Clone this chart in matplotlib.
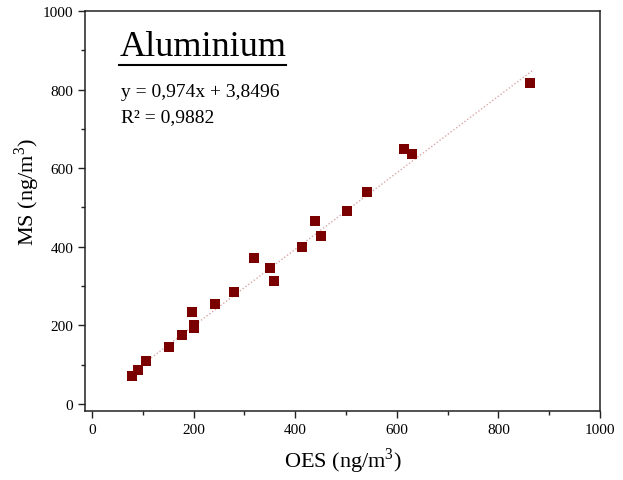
import numpy as np
import matplotlib
matplotlib.use("Agg")
import matplotlib.pyplot as plt
from matplotlib.lines import Line2D
from matplotlib.ticker import MultipleLocator

plt.rcParams['font.family'] = ['Liberation Serif', 'DejaVu Serif']
plt.rcParams['mathtext.fontset'] = 'custom'
plt.rcParams['mathtext.rm'] = 'Liberation Serif'

# values
oes = [78, 91, 106, 151, 178, 197, 200, 200, 243, 279, 319, 350, 358,
       413, 439, 450, 502, 542, 614, 630, 862]
ms = [72, 87, 109, 145, 176, 233, 201, 193, 254, 284, 371, 346, 314,
      399, 466, 427, 491, 540, 649, 635, 818]
slope = 0.974
intercept = 3.8496
r2 = 0.9882
title = "Aluminium"

fig = plt.figure(figsize=(6.23, 4.81), dpi=100)
ax = fig.add_axes([0.1364, 0.1435, 0.8266, 0.8315])

# trend line over the data range
xs = np.array([min(oes), 870])
ax.plot(xs, slope * xs + intercept, linestyle=(0, (1, 1.5)), color='#d8a8a8', lw=1.0, zorder=1)
ax.scatter(oes, ms, marker='s', s=42, color='#7a0000', zorder=3, linewidths=0)

ax.set_xlim(-14, 1000)
ax.set_ylim(-18, 1000)
ax.xaxis.set_major_locator(MultipleLocator(200))
ax.xaxis.set_minor_locator(MultipleLocator(100))
ax.yaxis.set_major_locator(MultipleLocator(200))
ax.yaxis.set_minor_locator(MultipleLocator(100))
ax.tick_params(which='major', direction='out', length=5, width=1, labelsize=11, color='#222222')
ax.tick_params(which='minor', direction='out', length=3, width=1, color='#222222')
for sp in ax.spines.values():
    sp.set_linewidth(1.1)
    sp.set_color('#222222')

ax.set_xlabel("OES (ng/m$^3$)", fontsize=16, labelpad=7)
ax.set_ylabel("MS (ng/m$^3$)", fontsize=16)
ax.yaxis.set_label_coords(-0.083, 0.55)

t = ax.text(0.067, 0.89, title, transform=ax.transAxes, fontsize=26, va='baseline', ha='left')
ax.text(0.07, 0.80, "y = 0,974x + 3,8496", transform=ax.transAxes, fontsize=14, va='center', ha='left')
ax.text(0.07, 0.737, "R\u00b2 = 0,9882", transform=ax.transAxes, fontsize=14, va='center', ha='left')

# underline the title
fig.canvas.draw()
bb = t.get_window_extent().transformed(fig.transFigure.inverted())
fig.add_artist(Line2D([bb.x0, bb.x1], [bb.y0 - 0.004, bb.y0 - 0.004], transform=fig.transFigure,
                      color='black', lw=1.5))

fig.savefig("out.png", dpi=100)
